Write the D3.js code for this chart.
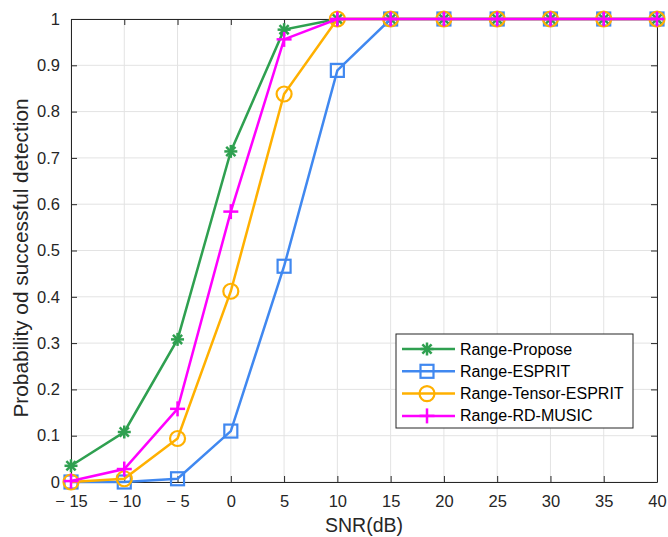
<!DOCTYPE html>
<html><head><meta charset="utf-8">
<script src="https://cdn.jsdelivr.net/npm/d3@7"></script>
<style>body{margin:0;background:#fff}svg{display:block}text{font-family:"Liberation Sans",Arial,sans-serif}</style>
</head><body>
<script>
const snr = [-15,-10,-5,0,5,10,15,20,25,30,35,40];
const propose = [0.035,0.108,0.308,0.714,0.977,1,1,1,1,1,1,1];
const esprit = [0,0,0.007,0.110,0.466,0.889,1,1,1,1,1,1];
const tensor = [0,0.007,0.094,0.412,0.838,1,1,1,1,1,1,1];
const rdmusic = [0.002,0.028,0.158,0.584,0.956,1,1,1,1,1,1,1];
const names = ["Range-Propose","Range-ESPRIT","Range-Tensor-ESPRIT","Range-RD-MUSIC"];
const colors = ["#2fa050","#4088f0","#ffb000","#ff00ff"];
const markers = ["star","square","circle","plus"];
const xTicks = [-15,-10,-5,0,5,10,15,20,25,30,35,40];
const yTicks = [0,0.1,0.2,0.3,0.4,0.5,0.6,0.7,0.8,0.9,1];

const W=668,H=537;
const svg=d3.select("body").append("svg").attr("width",W).attr("height",H);
const x=d3.scaleLinear().domain([-15,40]).range([71,657]);
const y=d3.scaleLinear().domain([0,1]).range([482,19]);
const axCol="#262626";

// grid
svg.append("g").selectAll("line").data(xTicks).join("line")
 .attr("x1",d=>x(d)).attr("x2",d=>x(d)).attr("y1",y(0)).attr("y2",y(1))
 .attr("stroke","#e3e3e3").attr("stroke-width",1);
svg.append("g").selectAll("line").data(yTicks).join("line")
 .attr("y1",d=>y(d)).attr("y2",d=>y(d)).attr("x1",x(-15)).attr("x2",x(40))
 .attr("stroke","#e3e3e3").attr("stroke-width",1);

// axes
const fmtX=d=>d<0?"\u2212 "+Math.abs(d):String(d);
const xAx=d3.axisBottom(x).tickValues(xTicks).tickSizeInner(-6).tickSizeOuter(0).tickPadding(13).tickFormat(fmtX);
const gx=svg.append("g").attr("transform",`translate(0,${y(0)})`).call(xAx);
const yAx=d3.axisLeft(y).tickValues(yTicks).tickSizeInner(-6).tickSizeOuter(0).tickPadding(11).tickFormat(d=>d===0?"0":d===1?"1":d3.format(".1f")(d));
const gy=svg.append("g").attr("transform",`translate(${x(-15)},0)`).call(yAx);
const gxt=svg.append("g").attr("transform",`translate(0,${y(1)})`).call(d3.axisTop(x).tickValues(xTicks).tickSizeInner(-6).tickSizeOuter(0).tickFormat(""));
const gyr=svg.append("g").attr("transform",`translate(${x(40)},0)`).call(d3.axisRight(y).tickValues(yTicks).tickSizeInner(-6).tickSizeOuter(0).tickFormat(""));
[gx,gy,gxt,gyr].forEach(g=>{
  g.selectAll("path").attr("stroke",axCol).attr("stroke-width",1);
  g.selectAll("line").attr("stroke",axCol);
  g.selectAll("text").attr("fill",axCol).style("font-size","16.5px").style("font-family","Liberation Sans, Arial, sans-serif");
});

// labels
svg.append("text").attr("x",(x(-15)+x(40))/2).attr("y",532).attr("text-anchor","middle")
 .attr("fill",axCol).style("font-size","19.5px").text("SNR(dB)");
svg.append("text").attr("transform",`translate(28,258) rotate(-90)`).attr("text-anchor","middle")
 .attr("fill",axCol).style("font-size","20.8px").text("Probability od successful detection");

function drawMarker(g,type,color,cx,cy){
  if(type==="star"){
    const r=6.5;
    for(let a=0;a<4;a++){
      const ang=a*Math.PI/4;
      g.append("line").attr("x1",cx-r*Math.cos(ang)).attr("y1",cy-r*Math.sin(ang))
       .attr("x2",cx+r*Math.cos(ang)).attr("y2",cy+r*Math.sin(ang))
       .attr("stroke",color).attr("stroke-width",2.5);
    }
  } else if(type==="square"){
    g.append("rect").attr("x",cx-6.5).attr("y",cy-6.5).attr("width",13).attr("height",13)
     .attr("fill","none").attr("stroke",color).attr("stroke-width",2.2);
  } else if(type==="circle"){
    g.append("circle").attr("cx",cx).attr("cy",cy).attr("r",7.5)
     .attr("fill","none").attr("stroke",color).attr("stroke-width",2.2);
  } else {
    const r=7.5;
    g.append("line").attr("x1",cx-r).attr("x2",cx+r).attr("y1",cy).attr("y2",cy).attr("stroke",color).attr("stroke-width",2.5);
    g.append("line").attr("x1",cx).attr("x2",cx).attr("y1",cy-r).attr("y2",cy+r).attr("stroke",color).attr("stroke-width",2.5);
  }
}

const series=[propose,esprit,tensor,rdmusic];
const line=d3.line().x((d,i)=>x(snr[i])).y(d=>y(d));
series.forEach((s,k)=>{
  const g=svg.append("g");
  g.append("path").datum(s).attr("d",line).attr("fill","none").attr("stroke",colors[k]).attr("stroke-width",2.5);
  s.forEach((v,i)=>drawMarker(g,markers[k],colors[k],x(snr[i]),y(v)));
});

// legend
const lg=svg.append("g");
lg.append("rect").attr("x",396).attr("y",334).attr("width",237).attr("height",94)
 .attr("fill","#fff").attr("stroke","#262626").attr("stroke-width",1);
names.forEach((n,k)=>{
  const yy=349+k*22.3;
  lg.append("line").attr("x1",402).attr("x2",455).attr("y1",yy).attr("y2",yy).attr("stroke",colors[k]).attr("stroke-width",2.5);
  drawMarker(lg,markers[k],colors[k],427,yy);
  lg.append("text").attr("x",460).attr("y",yy+5.5).attr("fill","#000").style("font-size","16px").text(n);
});
</script>
</body></html>
